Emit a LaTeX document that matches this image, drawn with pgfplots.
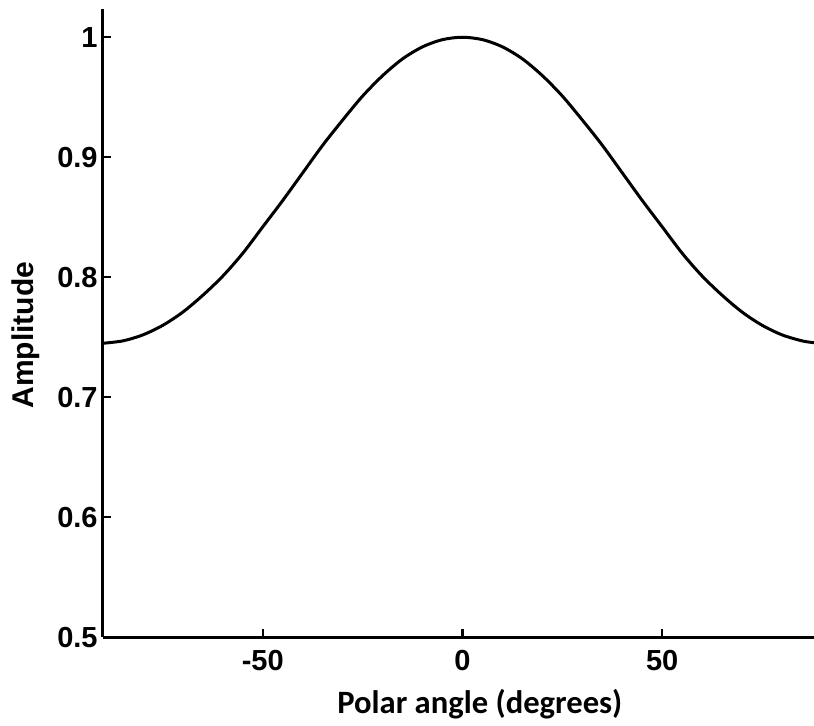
\documentclass[border=0pt]{standalone}
\usepackage{fontspec}
\setmainfont{Liberation Sans}
\newfontfamily\carlito{Carlito}
\usepackage{pgfplots}
\usepackage{pgfplotstable}
\pgfplotsset{compat=1.18}

% Amplitude versus polar angle
\pgfplotstableread{
angle amp
-90 0.745
-85 0.747
-80 0.752
-75 0.760
-70 0.771
-65 0.785
-60 0.801
-55 0.820
-50 0.842
-45 0.864
-40 0.887
-35 0.910
-30 0.931
-25 0.951
-20 0.968
-15 0.982
-10 0.992
-5 0.998
0 1.000
5 0.998
10 0.992
15 0.982
20 0.968
25 0.951
30 0.931
35 0.910
40 0.887
45 0.864
50 0.842
55 0.820
60 0.801
65 0.785
70 0.771
75 0.760
80 0.752
85 0.747
88 0.7455
}\amplitude

\begin{document}
\begin{tikzpicture}
\begin{axis}[
  scale only axis,
  width=355.5pt, height=314pt,
  xmin=-90, xmax=88, ymin=0.5, ymax=1.0233,
  axis x line=bottom, axis y line=left,
  axis line style={-, line width=1.5pt, black},
  xtick={-50,0,50}, xticklabels={-50,0,50},
  ytick={0.5,0.6,0.7,0.8,0.9,1},
  yticklabels={0.5,0.6,0.7,0.8,0.9,1},
  tick align=inside,
  major tick length=4pt,
  tick style={line width=1.2pt, black},
  ticklabel style={font=\fontsize{14.5}{17}\selectfont\bfseries},
  yticklabel style={inner sep=0pt, xshift=-2.5pt},
  xticklabel style={inner sep=0pt, yshift=-6.5pt},
  xlabel={\carlito\bfseries Polar angle (degrees)},
  xlabel style={font=\fontsize{16.3}{19}\selectfont, anchor=base,
    at={(axis description cs:0.530,-0.121)}},
  ylabel={\bfseries Amplitude},
  ylabel style={font=\fontsize{15}{18}\selectfont, anchor=center,
    at={(axis description cs:-0.1083,0.481)}},
  clip=true,
]
\addplot[black, line width=1.5pt, smooth] table[x=angle, y=amp] {\amplitude};
\end{axis}
\pgfresetboundingbox
\path ([shift={(-51.5pt,-44pt)}]current axis.south west)
  rectangle ([shift={(0pt,4.65pt)}]current axis.north east);
\end{tikzpicture}
\end{document}
